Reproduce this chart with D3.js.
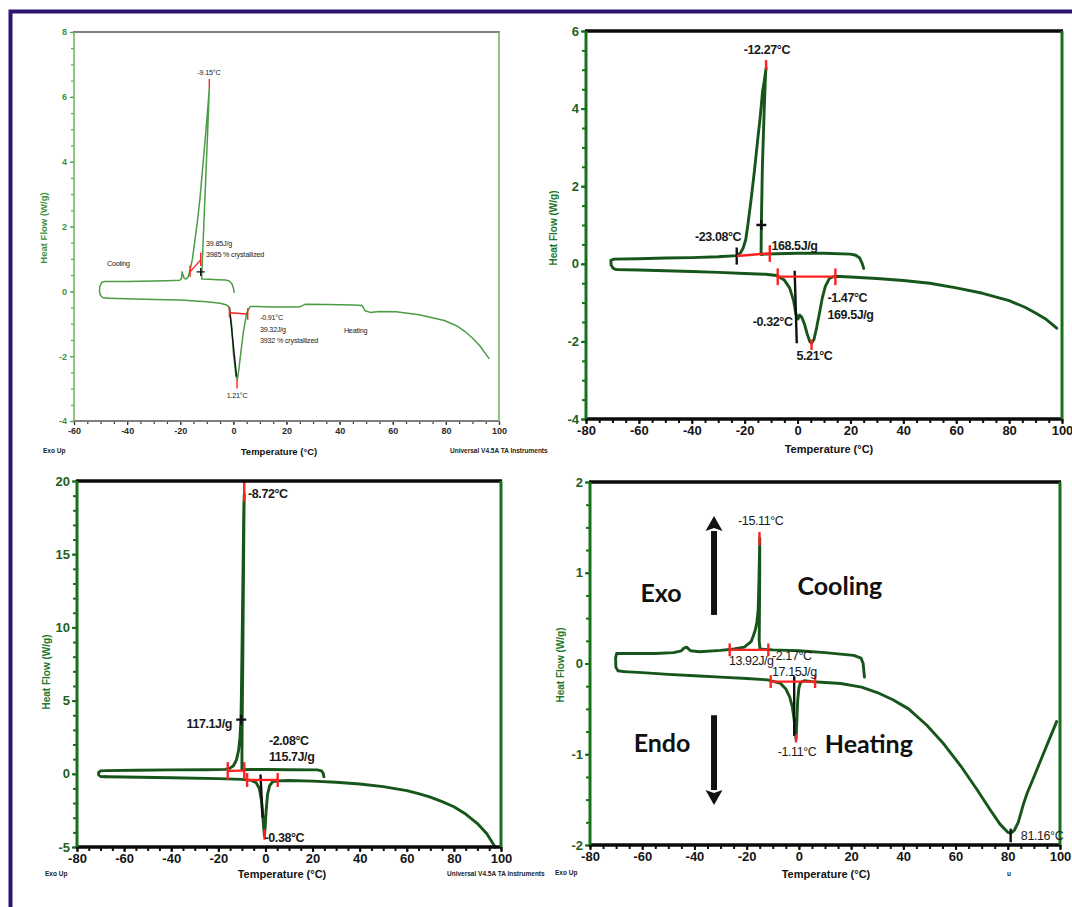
<!DOCTYPE html>
<html><head><meta charset="utf-8">
<script src="https://cdnjs.cloudflare.com/ajax/libs/d3/7.8.5/d3.min.js"></script>
<style>body{margin:0;background:#fff}svg{display:block}</style>
</head><body><svg id="c" width="1072" height="907"></svg>
<script>
// ---------------- DATA ----------------
const xTicksA = [-60,-40,-20,0,20,40,60,80,100];
const xTicksB = [-80,-60,-40,-20,0,20,40,60,80,100];
const p1YTicks = [-4,-2,0,2,4,6,8];
const p2YTicks = [-4,-2,0,2,4,6];
const p3YTicks = [-5,0,5,10,15,20];
const p4YTicks = [-2,-1,0,1,2];

// Panel 1 (top-left) [temperature °C, heat flow W/g]
const p1Cooling = [[0.3,-0.03],[0,0.1],[-0.6,0.24],[-1.6,0.32],[-3,0.35],[-6,0.36],[-9,0.37],[-11.9,0.38],[-11.9,0.5],[-10.5,3.3],[-9.6,5.1],[-9.06,6.26],[-9.4,5.9],[-10,5.29],[-10.6,4.7],[-11.3,4.05],[-12,3.4],[-12.6,2.85],[-13.2,2.4],[-13.8,1.99],[-14.6,1.5],[-15.4,1.0],[-16.3,0.66],[-17,0.45],[-17.8,0.38],[-18.5,0.4],[-19,0.52],[-19.3,0.6],[-19.5,0.4],[-20.2,0.34],[-25,0.33],[-30,0.32],[-40,0.3],[-48.5,0.3],[-49.6,0.27],[-50.3,0.15],[-50.4,0],[-50,-0.13],[-49.2,-0.19],[-47.5,-0.21]];
const p1Heating = [[-47.5,-0.21],[-40,-0.23],[-30,-0.25],[-20,-0.27],[-10,-0.32],[-5,-0.37],[-2.5,-0.42],[-1.5,-0.5],[-0.6,-1.09],[0,-1.91],[1,-2.63],[1.47,-2.73],[2,-2.45],[2.5,-2.1],[3.7,-1.29],[5,-0.67],[6.3,-0.47],[8.8,-0.47],[15,-0.48],[25,-0.48],[26,-0.44],[27,-0.4],[35,-0.41],[45,-0.42],[48.5,-0.44],[49.6,-0.6],[51.5,-0.65],[55,-0.62],[61.2,-0.63],[70,-0.72],[79.4,-0.9],[84,-1.06],[87.2,-1.24],[90,-1.44],[93,-1.7],[96.2,-2.07]];
const p1Red = [[[-16.3,0.6],[-12.3,0.97]],[[-16.3,0.45],[-16.3,0.8]],[[-12.3,0.78],[-12.3,1.2]],[[-9.06,6.26],[-9.06,6.55]],[[-1.5,-0.66],[5.4,-0.7]],[[-1.5,-0.47],[-1.5,-0.8]],[[5.4,-0.52],[5.4,-0.88]],[[1.35,-2.72],[1.35,-3.0]]];
const p1Black = [[[-1.5,-0.5],[1.2,-2.63]]];
const p1Cross = [[-12.3,0.6]];
const p1Labels = [["-9.15°C",-9.2,6.75,"middle"],["39.85J/g",-10.3,1.47,"start"],["3985 % crystallized",-10.3,1.13,"start"],["Cooling",-47.6,0.87,"start"],["-0.91°C",10,-0.82,"start"],["39.32J/g",10,-1.17,"start"],["3932 % crystallized",10,-1.52,"start"],["Heating",41.6,-1.22,"start"],["1.21°C",1.4,-3.22,"middle"]];

// Panel 2 (top-right)
const p2Cooling = [[25,-0.12],[24.5,0],[23.5,0.15],[22,0.22],[20,0.25],[10,0.27],[0,0.27],[-8,0.26],[-12,0.25],[-13.8,0.24],[-13.7,1.0],[-13.3,2.5],[-12.6,4.0],[-12.1,4.9],[-11.9,5.05],[-12.6,4.7],[-13.2,4.46],[-14.1,3.8],[-15.1,3.18],[-16.3,2.4],[-17.6,1.64],[-18.8,1.0],[-19.6,0.62],[-20.6,0.4],[-21.6,0.28],[-23,0.21],[-30,0.18],[-40,0.16],[-50,0.15],[-60,0.13],[-69.5,0.12],[-70.6,0.09],[-70.5,-0.03],[-69.7,-0.12],[-68.5,-0.15]];
const p2Heating = [[-68.5,-0.15],[-60,-0.16],[-50,-0.18],[-40,-0.2],[-30,-0.22],[-20,-0.25],[-12,-0.27],[-8,-0.3],[-5,-0.42],[-3,-0.62],[-1.5,-0.95],[-0.6,-1.3],[0.2,-1.42],[0.8,-1.32],[1.6,-1.38],[2.6,-1.55],[3.6,-1.8],[4.6,-2.0],[5.3,-2.05],[6.2,-1.95],[7.2,-1.65],[8.2,-1.3],[9.3,-0.9],[10.5,-0.58],[12,-0.38],[14,-0.32],[20,-0.34],[30,-0.38],[40,-0.43],[50,-0.5],[60,-0.62],[70,-0.76],[80,-0.95],[86,-1.12],[90,-1.27],[94,-1.43],[98,-1.66]];
const p2Red = [[[-23,0.2],[-10.5,0.27]],[[-10.5,0.05],[-10.5,0.48]],[[-7.5,-0.33],[14.3,-0.33]],[[-7.5,-0.12],[-7.5,-0.55]],[[14.3,-0.12],[14.3,-0.55]],[[-11.9,5.0],[-11.9,5.25]],[[5.3,-1.95],[5.3,-2.22]]];
const p2Black = [[[-23,-0.02],[-23,0.42]],[[-1.1,-0.18],[-0.3,-2.05]]];
const p2Cross = [[-13.7,1.0]];
const p2Labels = [["-12.27°C",-11.6,5.5,"middle"],["-23.08°C",-21.3,0.7,"end"],["168.5J/g",-9.9,0.45,"start"],["-1.47°C",11.3,-0.87,"start"],["169.5J/g",11.3,-1.33,"start"],["-0.32°C",-1.9,-1.49,"end"],["5.21°C",6.4,-2.38,"middle"]];

// Panel 3 (bottom-left)
const p3Cooling = [[24.8,-0.2],[24.5,0.05],[23.8,0.2],[22,0.27],[10,0.28],[0,0.29],[-6,0.29],[-10,0.28],[-9.9,3],[-9.6,8],[-9.3,14],[-9.1,18],[-9.0,19.1],[-9.2,18],[-9.5,14],[-9.9,9],[-10.2,5.5],[-10.4,3.7],[-10.8,2.5],[-11.4,1.6],[-12.3,0.95],[-13.6,0.55],[-15.2,0.37],[-17,0.3],[-25,0.28],[-40,0.27],[-55,0.24],[-68,0.22],[-70,0.2],[-70.8,0.1],[-70.8,-0.08],[-70,-0.18],[-68,-0.2]];
const p3Heating = [[-68,-0.2],[-60,-0.22],[-40,-0.27],[-20,-0.33],[-10,-0.38],[-6,-0.45],[-4,-0.6],[-2.6,-1.0],[-1.7,-1.8],[-1.1,-2.9],[-0.7,-3.8],[-0.4,-4.25],[-0.1,-3.6],[0.3,-2.5],[0.9,-1.4],[1.8,-0.8],[3,-0.55],[5,-0.48],[10,-0.46],[20,-0.5],[30,-0.58],[40,-0.7],[50,-0.88],[60,-1.15],[65,-1.35],[70,-1.6],[75,-1.9],[80,-2.25],[85,-2.75],[90,-3.4],[94,-4.1],[97.5,-5.0]];
const p3Red = [[[-9.0,18.6],[-9.0,20]],[[-16,0.2],[-9,0.22]],[[-16,-0.4],[-16,0.8]],[[-9,-0.4],[-9,0.8]],[[-7.8,-0.42],[5.2,-0.42]],[[-7.8,0.05],[-7.8,-0.9]],[[5.2,0.05],[5.2,-0.9]],[[-0.4,-3.8],[-0.4,-4.5]]];
const p3Black = [[[-2.1,-0.05],[-1.2,-3.0]]];
const p3Cross = [[-10.3,3.7]];
const p3Labels = [["-8.72°C",-7.4,19.1,"start"],["117.1J/g",-14.2,3.4,"end"],["-2.08°C",1.5,2.27,"start"],["115.7J/g",1.5,1.18,"start"],["-0.38°C",-0.4,-4.4,"start"]];

// Panel 4 (bottom-right)
const p4Cooling = [[25.1,-0.15],[24.6,0],[23.8,0.06],[21,0.09],[10,0.12],[0,0.14],[-10,0.15],[-14.9,0.16],[-15.2,0.25],[-15.1,0.6],[-15.0,1.0],[-15.0,1.38],[-15.1,1.2],[-15.3,0.9],[-15.6,0.59],[-16.1,0.45],[-16.7,0.37],[-17.5,0.3],[-18.3,0.24],[-20.9,0.18],[-24.9,0.16],[-30,0.145],[-38,0.13],[-41.5,0.14],[-43,0.18],[-44,0.17],[-45,0.14],[-48,0.12],[-55,0.11],[-63,0.11],[-69.8,0.11],[-70.2,0.06],[-70.1,-0.04],[-69.3,-0.08],[-67,-0.09]];
const p4Heating = [[-67,-0.09],[-60,-0.1],[-50,-0.12],[-40,-0.135],[-30,-0.15],[-20,-0.165],[-12,-0.18],[-7,-0.22],[-5,-0.28],[-3.5,-0.37],[-2.5,-0.48],[-1.8,-0.62],[-1.3,-0.77],[-1.1,-0.83],[-0.8,-0.65],[-0.5,-0.42],[0,-0.27],[0.6,-0.21],[2,-0.19],[5,-0.2],[10,-0.21],[16,-0.22],[24,-0.26],[30,-0.32],[36,-0.4],[42,-0.5],[49,-0.68],[55,-0.87],[62,-1.13],[68,-1.38],[73,-1.6],[77,-1.77],[80,-1.86],[81.2,-1.87],[82.5,-1.84],[84,-1.75],[86,-1.55],[87.4,-1.43],[90,-1.25],[92.7,-1.06],[95,-0.9],[98.7,-0.64]];
const p4Red = [[[-15.1,1.3],[-15.1,1.45]],[[-26.5,0.15],[-11.7,0.15]],[[-26.5,0.08],[-26.5,0.22]],[[-11.7,0.08],[-11.7,0.22]],[[-10.8,-0.2],[6.2,-0.2]],[[-10.8,-0.13],[-10.8,-0.27]],[[6.2,-0.13],[6.2,-0.27]],[[-1.1,-0.78],[-1.1,-0.87]]];
const p4Black = [[[-1.8,-0.14],[-1.8,-0.8]],[[81.1,-1.82],[81.1,-1.97]]];
const p4Labels = [["-15.11°C",-14.6,1.57,"middle"],["13.92J/g",-26.8,0.03,"start"],["-2.17°C",-10.3,0.08,"start"],["17.15J/g",-10.3,-0.09,"start"],["-1.11°C",-0.7,-0.98,"middle"],["81.16°C",85,-1.9,"start"]];
const p4BigLabels = [["Exo",-52.8,0.79],["Cooling",15.7,0.865],["Endo",-52.4,-0.865],["Heating",26.8,-0.876]];
const p4Arrows = [[-32.5,0.535,1.625],[-32.5,-0.57,-1.56]]; // x, tail, tip

// ---------------- DRAW ----------------
const svg = d3.select("#c");
const FONT = "'Liberation Sans', Arial, sans-serif";

// outer frame
svg.append("rect").attr("x",10.5).attr("y",11.5).attr("width",1100).attr("height",940)
  .attr("fill","none").attr("stroke","#2d1570").attr("stroke-width",4);

function drawPanel(c) {
  const x = d3.scaleLinear().domain(c.xDomain).range([c.left, c.right]);
  const y = d3.scaleLinear().domain(c.yDomain).range([c.bottom, c.top]);
  const g = svg.append("g");
  const st = c.style;

  const xMinor = d3.range(c.xDomain[0], c.xDomain[1] + 0.001, 5);
  g.append("g").attr("transform", `translate(0,${c.bottom})`)
    .call(d3.axisBottom(x).tickValues(xMinor).tickSize(st.minorLen).tickFormat(""))
    .call(a => a.select(".domain").remove())
    .selectAll("line").attr("stroke", st.tickColor).attr("stroke-width", st.tickW);
  const xa = g.append("g").attr("transform", `translate(0,${c.bottom})`)
    .call(d3.axisBottom(x).tickValues(c.xTicks).tickSize(st.majorLen).tickPadding(st.xPad).tickFormat(d => String(d)));
  xa.select(".domain").remove();
  xa.selectAll("line").attr("stroke", st.tickColor).attr("stroke-width", st.tickW);
  xa.selectAll("text").attr("font-family", FONT).attr("font-size", st.tickFont)
    .attr("font-weight", st.tickWeight).attr("fill", st.xTickColor);

  const yMinor = d3.range(c.yDomain[0], c.yDomain[1] + 1e-6, c.yMinorStep);
  g.append("g").attr("transform", `translate(${c.left},0)`)
    .call(d3.axisLeft(y).tickValues(yMinor).tickSize(st.minorLen).tickFormat(""))
    .call(a => a.select(".domain").remove())
    .selectAll("line").attr("stroke", st.yTickLine).attr("stroke-width", st.tickW);
  const ya = g.append("g").attr("transform", `translate(${c.left},0)`)
    .call(d3.axisLeft(y).tickValues(c.yTicks).tickSize(st.majorLen).tickPadding(st.yPad).tickFormat(d => String(d)));
  ya.select(".domain").remove();
  ya.selectAll("line").attr("stroke", st.yTickLine).attr("stroke-width", st.tickW);
  ya.selectAll("text").attr("font-family", FONT).attr("font-size", st.tickFont)
    .attr("font-weight", st.tickWeight).attr("fill", st.yTickColor);

  const line = d3.line().x(d => x(d[0])).y(d => y(d[1]));
  [c.cooling, c.heating].forEach(arr => {
    g.append("path").attr("d", line(arr)).attr("fill","none")
      .attr("stroke", st.curve).attr("stroke-width", st.curveW)
      .attr("stroke-linejoin","round").attr("stroke-linecap","round");
  });
  (c.black || []).forEach(s => g.append("path").attr("d", line(s)).attr("stroke","#111")
    .attr("stroke-width", st.markW).attr("fill","none"));
  (c.red || []).forEach(s => g.append("path").attr("d", line(s)).attr("stroke","#ff2020")
    .attr("stroke-width", st.markW).attr("fill","none"));
  (c.cross || []).forEach(p => {
    const cx = x(p[0]), cy = y(p[1]), r = st.crossR;
    g.append("path").attr("d", `M${cx-r},${cy}H${cx+r}M${cx},${cy-r}V${cy+r}`)
      .attr("stroke","#111").attr("stroke-width", st.markW);
  });

  g.append("line").attr("x1",c.left-1).attr("x2",c.right+1).attr("y1",c.top).attr("y2",c.top)
    .attr("stroke", st.frameH).attr("stroke-width", st.frameW);
  g.append("line").attr("x1",c.left-1).attr("x2",c.right+1).attr("y1",c.bottom).attr("y2",c.bottom)
    .attr("stroke", st.frameH).attr("stroke-width", st.frameW);
  g.append("line").attr("x1",c.left).attr("x2",c.left).attr("y1",c.top).attr("y2",c.bottom)
    .attr("stroke", st.frameV).attr("stroke-width", st.frameVW);
  g.append("line").attr("x1",c.right).attr("x2",c.right).attr("y1",c.top).attr("y2",c.bottom)
    .attr("stroke", st.frameV).attr("stroke-width", st.frameVW);

  (c.labels || []).forEach(l => g.append("text").text(l[0]).attr("x", x(l[1])).attr("y", y(l[2]))
    .attr("text-anchor", l[3]).attr("dominant-baseline","central")
    .attr("font-family", FONT).attr("font-size", st.labelFont).attr("font-weight", st.labelWeight)
    .attr("fill","#1a1a1a").attr("letter-spacing", st.labelLS));

  g.append("text").text("Heat Flow (W/g)")
    .attr("transform", `translate(${c.yTitle[0]},${c.yTitle[1]}) rotate(-90)`)
    .attr("text-anchor","middle").attr("dominant-baseline","central")
    .attr("font-family", FONT).attr("font-size", st.yTitleFont).attr("font-weight","bold").attr("fill", st.yTitleColor);
  g.append("text").text(c.xTitleText).attr("x", c.xTitle[0]).attr("y", c.xTitle[1])
    .attr("text-anchor","middle").attr("dominant-baseline","central")
    .attr("font-family", FONT).attr("font-size", st.xTitleFont).attr("font-weight","bold").attr("fill","#111");
  (c.extra || []).forEach(e => g.append("text").text(e[0]).attr("x", e[1]).attr("y", e[2])
    .attr("text-anchor", e[3] || "start").attr("dominant-baseline","central")
    .attr("font-family", FONT).attr("font-size", 6.5).attr("font-weight","bold").attr("fill","#222"));

  return {x, y, g};
}

const styleLight = {minorLen:3, majorLen:4, tickW:1.2, tickColor:"#333", yTickLine:"#5aa24e", xPad:3, yPad:3,
  tickFont:9, tickWeight:"bold", xTickColor:"#2a2a2a", yTickColor:"#3f9140",
  curve:"#4c9c46", curveW:1.5, markW:1.4, crossR:4,
  frameH:"#808080", frameW:2, frameV:"#74b865", frameVW:1.6,
  labelFont:7.2, labelWeight:"normal", labelLS:-0.2,
  yTitleFont:9.5, yTitleColor:"#3f9140", xTitleFont:9.5};
const styleBold = {minorLen:4, majorLen:5, tickW:2, tickColor:"#111", yTickLine:"#1c6e1c", xPad:2, yPad:2,
  tickFont:13, tickWeight:"bold", xTickColor:"#151515", yTickColor:"#1e5f1e",
  curve:"#17561a", curveW:2.9, markW:2.4, crossR:5,
  frameH:"#0a0a0a", frameW:3.5, frameV:"#17701a", frameVW:3,
  labelFont:12.5, labelWeight:"bold", labelLS:-0.4,
  yTitleFont:10, yTitleColor:"#23782a", xTitleFont:11};
const styleBold4 = Object.assign({}, styleBold, {labelWeight:"normal", labelFont:12.5});

drawPanel({left:74, right:499, top:32, bottom:421, xDomain:[-60,100], yDomain:[-4,8],
  xTicks:xTicksA, yTicks:p1YTicks, yMinorStep:0.5, style:styleLight,
  cooling:p1Cooling, heating:p1Heating, red:p1Red, black:p1Black, cross:p1Cross, labels:p1Labels,
  yTitle:[43,228], xTitle:[279,451], xTitleText:"Temperature (°C)",
  extra:[["Exo Up",43,450],["Universal V4.5A TA Instruments",450,450]]});

drawPanel({left:586, right:1062, top:31, bottom:419, xDomain:[-80,100], yDomain:[-4,6],
  xTicks:xTicksB, yTicks:p2YTicks, yMinorStep:0.5, style:styleBold,
  cooling:p2Cooling, heating:p2Heating, red:p2Red, black:p2Black, cross:p2Cross, labels:p2Labels,
  yTitle:[553,228], xTitle:[829,449], xTitleText:"Temperature (°C)"});

drawPanel({left:77, right:501, top:481, bottom:847, xDomain:[-80,100], yDomain:[-5,20],
  xTicks:xTicksB, yTicks:p3YTicks, yMinorStep:1, style:styleBold,
  cooling:p3Cooling, heating:p3Heating, red:p3Red, black:p3Black, cross:p3Cross, labels:p3Labels,
  yTitle:[46,672], xTitle:[282,874], xTitleText:"Temperature (°C)",
  extra:[["Exo Up",45,873],["Universal V4.5A TA Instruments",447,873]]});

const P4 = drawPanel({left:590, right:1060, top:482, bottom:845, xDomain:[-80,100], yDomain:[-2,2],
  xTicks:xTicksB, yTicks:p4YTicks, yMinorStep:0.25, style:styleBold4,
  cooling:p4Cooling, heating:p4Heating, red:p4Red, black:p4Black, cross:[], labels:p4Labels,
  yTitle:[560,665], xTitle:[826,874], xTitleText:"Temperature (°C)",
  extra:[["Exo Up",555,872],["u",1007,873]]});

p4BigLabels.forEach(l => P4.g.append("text").text(l[0]).attr("x", P4.x(l[1])).attr("y", P4.y(l[2]))
  .attr("text-anchor","middle").attr("dominant-baseline","central")
  .attr("font-family","Lato, 'Open Sans', sans-serif").attr("font-size",25).attr("font-weight","bold").attr("fill","#111"));
p4Arrows.forEach(a => {
  const ax = P4.x(a[0]), t = P4.y(a[1]), tip = P4.y(a[2]);
  const dir = tip < t ? 1 : -1;
  const headLen = 15, headW = 8.5;
  const base = tip + dir * headLen;
  P4.g.append("line").attr("x1",ax).attr("x2",ax).attr("y1",t).attr("y2",base)
    .attr("stroke","#111").attr("stroke-width",6);
  P4.g.append("path").attr("d", `M${ax},${tip}L${ax-headW},${base}L${ax},${base-dir*3}L${ax+headW},${base}Z`)
    .attr("fill","#111");
});
</script></body></html>
